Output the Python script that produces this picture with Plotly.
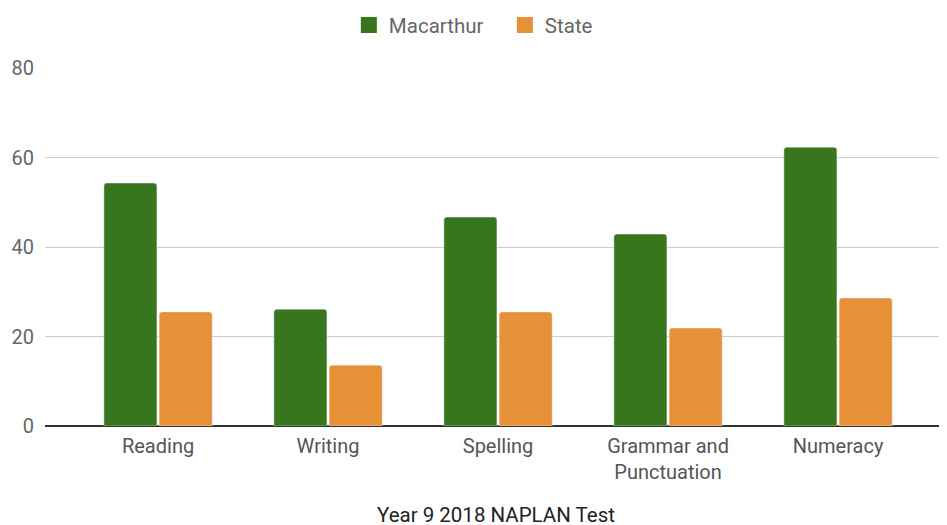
import plotly.graph_objects as go

categories = ["Reading", "Writing", "Spelling", "Grammar and<br>Punctuation", "Numeracy"]
macarthur = [54.3, 26.1, 46.7, 42.9, 62.3]
state = [25.5, 13.6, 25.5, 21.9, 28.6]
series_names = ["Macarthur", "State"]
series_colors = ["#38761d", "#e69138"]
x_title = "Year 9 2018 NAPLAN Test"

fig = go.Figure()
for name, vals, col in zip(series_names, [macarthur, state], series_colors):
    fig.add_trace(go.Bar(name=name, x=categories, y=vals, showlegend=False,
                         marker=dict(color=col, cornerradius=3)))
# legend-only markers (rounded square look)
for name, col in zip(series_names, series_colors):
    fig.add_trace(go.Scatter(name=name, x=[None], y=[None], mode="markers",
                             marker=dict(symbol="square", size=18, color=col),
                             showlegend=True))

fig.update_layout(
    width=939, height=517,
    margin=dict(l=37, r=0, t=60, b=99, autoexpand=False),
    paper_bgcolor="white", plot_bgcolor="white",
    font=dict(family="Roboto", size=20, color="#666666"),
    barmode="group", bargap=0.35, bargroupgap=0.04,
    showlegend=True,
    legend=dict(orientation="h", x=0.363, xanchor="left", xref="container",
                y=0.967, yanchor="middle", yref="container",
                font=dict(size=20.5, color="#666666"), traceorder="normal",
                itemwidth=30, entrywidth=111),
    xaxis=dict(range=[-0.665, 4.641], showgrid=False, ticks="", automargin=False,
               tickfont=dict(size=20, color="#555555"), showline=False,
               ticklabelstandoff=6),
    yaxis=dict(range=[0, 80], dtick=20, showgrid=True, gridcolor="#cccccc", gridwidth=1,
               zeroline=True, zerolinecolor="#333333", zerolinewidth=1.5, automargin=False,
               tickfont=dict(size=20, color="#666666"), ticklabelstandoff=10),
    annotations=[dict(text=x_title, xref="paper", yref="paper", x=0.5, y=-0.249,
                      xanchor="center", yanchor="middle", showarrow=False,
                      font=dict(size=20.5, color="#222222"))],
)
fig.write_html("out.html")
